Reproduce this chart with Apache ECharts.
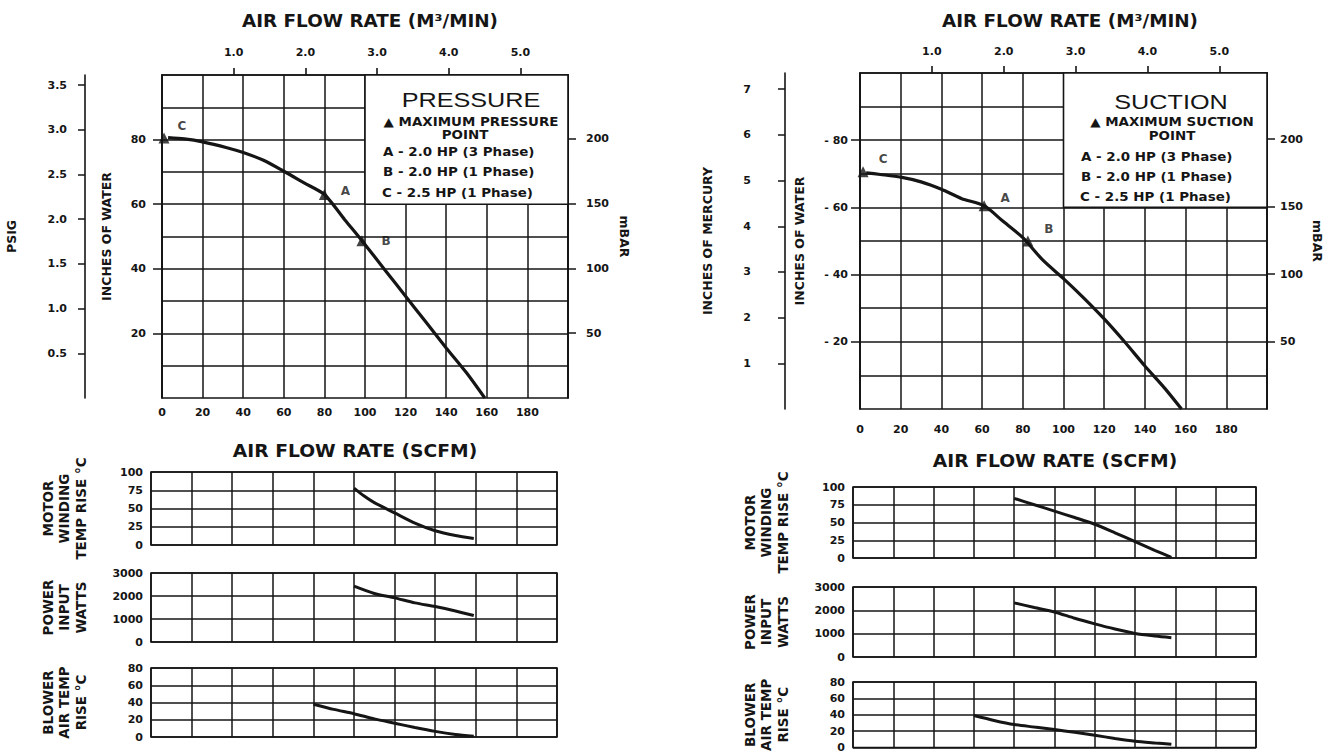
<!DOCTYPE html>
<html><head><meta charset="utf-8">
<script src="https://cdn.jsdelivr.net/npm/echarts@6/dist/echarts.min.js"></script>
<style>html,body{margin:0;padding:0;background:#fff}#c{width:1337px;height:753px}</style>
</head><body><div id="c"></div>
<script>
// ---------------- data ----------------
const scfmLabelValues = [0, 20, 40, 60, 80, 100, 120, 140, 160, 180];
const m3minTicks = [1, 2, 3, 4, 5];
const m3minLabels = ['1.0', '2.0', '3.0', '4.0', '5.0'];
const psigTicks = [0.5, 1, 1.5, 2, 2.5, 3, 3.5];
const psigLabels = ['0.5', '1.0', '1.5', '2.0', '2.5', '3.0', '3.5'];
const waterTicks = [20, 40, 60, 80];
const pressureWaterLabels = ['20', '40', '60', '80'];
const suctionWaterLabels = ['- 20', '- 40', '- 60', '- 80'];
const mbarTicks = [50, 100, 150, 200];
const mbarLabels = ['50', '100', '150', '200'];
const inHgTicks = [1, 2, 3, 4, 5, 6, 7];
const inHgLabels = ['1', '2', '3', '4', '5', '6', '7'];

// unit conversions between the stacked scales
const SCFM_PER_M3MIN = 35.3147;
const INH2O_PER_PSI = 27.68;
const INH2O_PER_MBAR = 0.40146;
const INH2O_PER_INHG = 13.595;

// pressure chart: SCFM vs inches of water
const pressureCurve = [[3, 80.6], [11, 80.2], [20, 79.3], [32, 77.5], [40, 76], [50, 73.6], [60, 70.2], [70, 66.6], [80, 63], [90, 55.2], [98.5, 48.7], [110, 39.5], [120, 31.5], [130, 23.5], [140, 15.5], [150, 7.8], [159, 0]];
const pressureMaxPoints = [[80, 63], [98.5, 48.7], [1, 80.5]];
// suction chart: SCFM vs inches of water (suction)
const suctionCurve = [[3, 70.3], [10, 69.8], [20, 69], [30, 67.6], [40, 65.4], [50, 62.6], [61, 60.5], [70, 56], [80, 51], [90, 44.2], [100, 38.8], [110, 33], [120, 26.8], [130, 20], [140, 12.8], [150, 6], [158, 0]];
const suctionMaxPoints = [[61, 60.5], [82.5, 50], [1.5, 70.6]];
const pointNames = ['A', 'B', 'C'];

const legendTitles = ['PRESSURE', 'SUCTION'];
const legendMaxLines = ['\u25B2 MAXIMUM PRESSURE', '\u25B2 MAXIMUM SUCTION'];
const legendModels = ['A - 2.0 HP (3 Phase)', 'B - 2.0 HP (1 Phase)', 'C - 2.5 HP (1 Phase)'];
const legendBoxScfm = [100, 200];
const legendBoxWater = [60, 100];

// small panels (SCFM vs value)
const motorTicksMax = 100, motorInterval = 25;
const powerTicksMax = 3000, powerInterval = 1000;
const blowerTicksMax = 80, blowerInterval = 20;
const leftMotor = [[100, 78], [105, 67], [110, 58], [120, 44], [130, 30], [140, 19.5], [150, 13], [159, 9]];
const leftPower = [[100, 2430], [110, 2110], [120, 1920], [130, 1700], [140, 1540], [150, 1350], [159, 1150]];
const leftBlower = [[80, 38], [90, 32], [100, 27], [110, 21], [120, 16], [130, 11], [140, 6.5], [150, 3], [159, 1]];
const rightMotor = [[80, 84], [90, 75], [100, 66], [110, 57], [120, 47.5], [130, 35.5], [140, 23], [150, 10.5], [158, 1]];
const rightPower = [[80, 2320], [90, 2120], [100, 1930], [110, 1660], [120, 1420], [130, 1200], [140, 1010], [150, 900], [158, 830]];
const rightBlower = [[60, 39], [70, 33], [80, 28], [90, 25], [100, 22], [110, 18.5], [120, 15], [130, 11], [140, 7.6], [150, 5.5], [158, 4]];
const panelNames = ['MOTOR\nWINDING\nTEMP RISE \u00B0C', 'POWER\nINPUT\nWATTS', 'BLOWER\nAIR TEMP\nRISE \u00B0C'];

// ---------------- styling / layout ----------------
const INK = '#151515';
const FONT = 'DejaVu Sans';
const gridLine = { color: INK, width: 1.5 };
const lblStyle = { color: INK, fontFamily: FONT, fontWeight: 'bold', fontSize: 11 };
const nameStyle = { color: INK, fontFamily: FONT, fontWeight: 'bold', fontSize: 12.5 };
const panelNameStyle = { color: INK, fontFamily: FONT, fontWeight: 'bold', fontSize: 13.5, lineHeight: 16.5 };

function lookup(vals, labels) {
  return function (v) {
    for (let i = 0; i < vals.length; i++) if (Math.abs(vals[i] - v) < 1e-6) return labels[i];
    return '';
  };
}

const grids = [
  { left: 162, top: 75, width: 406, height: 323 },   // pressure
  { left: 860, top: 73, width: 407, height: 336 },   // suction
  { left: 151, top: 472, width: 406, height: 73 },
  { left: 151, top: 573, width: 406, height: 69 },
  { left: 151, top: 668, width: 406, height: 69 },
  { left: 853, top: 487, width: 403, height: 71 },
  { left: 853, top: 587, width: 403, height: 70 },
  { left: 853, top: 682, width: 403, height: 70 }
].map(g => Object.assign({ show: true, borderColor: INK, borderWidth: 1.6, backgroundColor: 'transparent', containLabel: false }, g));

function scfmAxis(gridIndex, showLabels, margin) {
  return {
    type: 'value', gridIndex, position: 'bottom', min: 0, max: 200, interval: 20,
    axisLine: { show: false }, axisTick: { show: false },
    axisLabel: Object.assign({ show: showLabels, margin: margin || 8, showMaxLabel: false,
      formatter: v => scfmLabelValues.indexOf(v) >= 0 ? String(v) : '' }, lblStyle),
    splitLine: { show: true, lineStyle: gridLine }
  };
}
function m3Axis(gridIndex, margin) {
  return {
    type: 'value', gridIndex, position: 'top', min: 0, max: 200 / SCFM_PER_M3MIN, interval: 1,
    axisLine: { show: true, onZero: false, lineStyle: { color: INK, width: 1.6 } },
    axisTick: { show: true, length: 7, customValues: m3minTicks, lineStyle: { color: INK, width: 1.6 } },
    axisLabel: Object.assign({ margin, customValues: m3minTicks, formatter: lookup(m3minTicks, m3minLabels) }, lblStyle),
    splitLine: { show: false }
  };
}
function waterAxis(gridIndex, labels, margin, nameGap) {
  return {
    type: 'value', gridIndex, position: 'left', min: 0, max: 100, interval: 20,
    axisLine: { show: true, onZero: false, lineStyle: { color: INK, width: 1.6 } },
    axisTick: { show: true, length: 9, customValues: waterTicks, lineStyle: { color: INK, width: 1.5 } },
    axisLabel: Object.assign({ margin, customValues: waterTicks, formatter: lookup(waterTicks, labels) }, lblStyle),
    splitLine: { show: true, lineStyle: gridLine },
    minorTick: { show: false, splitNumber: 2 },
    minorSplitLine: { show: true, lineStyle: gridLine },
    name: 'INCHES OF WATER', nameLocation: 'middle', nameRotate: 90, nameGap, nameTextStyle: nameStyle
  };
}
function sideAxis(gridIndex, pos, offset, max, interval, ticks, labels, margin, name, nameGap, rot, tickLen) {
  return {
    type: 'value', gridIndex, position: pos, offset, min: 0, max, interval,
    axisLine: { show: true, onZero: false, lineStyle: { color: INK, width: 1.6 } },
    axisTick: { show: true, length: tickLen, customValues: ticks, lineStyle: { color: INK, width: 1.5 } },
    axisLabel: Object.assign({ margin, customValues: ticks, formatter: lookup(ticks, labels) }, lblStyle),
    splitLine: { show: false },
    name, nameLocation: 'middle', nameRotate: rot, nameGap, nameTextStyle: nameStyle
  };
}
function panelY(gridIndex, max, interval, name) {
  return {
    type: 'value', gridIndex, min: 0, max, interval,
    axisLine: { show: false }, axisTick: { show: false },
    axisLabel: Object.assign({ margin: 8, formatter: v => String(v) }, lblStyle),
    splitLine: { show: true, lineStyle: gridLine },
    name, nameLocation: 'middle', nameRotate: 90, nameGap: 62, nameTextStyle: panelNameStyle
  };
}

const xAxis = [
  scfmAxis(0, true, 9), m3Axis(0, 17),
  scfmAxis(1, true, 15), m3Axis(1, 16),
  scfmAxis(2, false), scfmAxis(3, false), scfmAxis(4, false),
  scfmAxis(5, false), scfmAxis(6, false), scfmAxis(7, false)
];
const yAxis = [
  waterAxis(0, pressureWaterLabels, 16, 49),
  sideAxis(0, 'left', 77, 100 / INH2O_PER_PSI, 0.5, psigTicks, psigLabels, 18, 'PSIG', 67, 90, 7),
  sideAxis(0, 'right', 0, 100 / INH2O_PER_MBAR, 50, mbarTicks, mbarLabels, 18, 'mBAR', 50, -90, 8),
  waterAxis(1, suctionWaterLabels, 12, 54),
  sideAxis(1, 'left', 75, 100 / INH2O_PER_INHG, 1, inHgTicks, inHgLabels, 34, 'INCHES OF MERCURY', 71, 90, 7),
  sideAxis(1, 'right', 0, 100 / INH2O_PER_MBAR, 50, mbarTicks, mbarLabels, 13, 'mBAR', 44, -90, 8),
  panelY(2, motorTicksMax, motorInterval, panelNames[0]),
  panelY(3, powerTicksMax, powerInterval, panelNames[1]),
  panelY(4, blowerTicksMax, blowerInterval, panelNames[2]),
  panelY(5, motorTicksMax, motorInterval, panelNames[0]),
  panelY(6, powerTicksMax, powerInterval, panelNames[1]),
  panelY(7, blowerTicksMax, blowerInterval, panelNames[2])
];

function curve(xi, yi, data, w) {
  return { type: 'line', xAxisIndex: xi, yAxisIndex: yi, data, smooth: 0.25, symbol: 'none',
    lineStyle: { color: INK, width: w || 3 }, z: 4, silent: true };
}
function legendArea() {
  return { silent: true, itemStyle: { color: '#fff', borderColor: INK, borderWidth: 1.6 },
    data: [[{ coord: [legendBoxScfm[0], legendBoxWater[0]] }, { coord: [legendBoxScfm[1], legendBoxWater[1]] }]] };
}
function markers(xi, yi, pts, offsets) {
  return { type: 'scatter', xAxisIndex: xi, yAxisIndex: yi, symbol: 'triangle', symbolSize: 11,
    itemStyle: { color: INK }, z: 6, silent: true,
    label: { show: true, formatter: '{b}', position: 'inside', color: INK, fontFamily: FONT, fontWeight: 'bold', fontSize: 12 },
    data: pts.map((p, i) => ({ name: pointNames[i], value: p, label: { offset: offsets[i] } })) };
}

const pressureMain = curve(0, 0, pressureCurve, 3.2);
pressureMain.markArea = legendArea();
const suctionMain = curve(2, 3, suctionCurve, 3.2);
suctionMain.markArea = legendArea();

const series = [
  pressureMain,
  markers(0, 0, pressureMaxPoints, [[21, -4], [24, 0], [18, -12]]),
  suctionMain,
  markers(2, 3, suctionMaxPoints, [[21, -8], [21, -12], [20, -13]]),
  curve(4, 6, leftMotor), curve(5, 7, leftPower), curve(6, 8, leftBlower),
  curve(7, 9, rightMotor), curve(8, 10, rightPower), curve(9, 11, rightBlower)
];

function gtext(x, y, text, opt) {
  opt = opt || {};
  return { type: 'text', x, y, scaleX: opt.sx || 1, z: 100, silent: true,
    style: { text, fill: INK, fontFamily: opt.family || FONT, fontWeight: opt.weight || 'bold', fontSize: opt.size || 12,
      align: opt.align || 'center', textAlign: opt.align || 'center', verticalAlign: 'middle', textVerticalAlign: 'middle' } };
}
const graphic = [
  gtext(370, 21, 'AIR FLOW RATE (M\u00B3/MIN)', { size: 17, sx: 1.08 }),
  gtext(1070, 21, 'AIR FLOW RATE (M\u00B3/MIN)', { size: 17, sx: 1.08 }),
  gtext(355, 451, 'AIR FLOW RATE (SCFM)', { size: 17, sx: 1.1 }),
  gtext(1055, 461, 'AIR FLOW RATE (SCFM)', { size: 17, sx: 1.1 }),
  // pressure legend
  gtext(471, 100, legendTitles[0], { size: 21, sx: 1.2, family: 'Liberation Sans', weight: 'normal' }),
  gtext(471, 122, legendMaxLines[0], { sx: 1.12 }),
  gtext(465, 135, 'POINT', { sx: 1.12 }),
  gtext(383, 152, legendModels[0], { sx: 1.12, align: 'left' }),
  gtext(383, 172, legendModels[1], { sx: 1.12, align: 'left' }),
  gtext(382, 193, legendModels[2], { sx: 1.12, align: 'left' }),
  // suction legend
  gtext(1171, 102, legendTitles[1], { size: 21, sx: 1.2, family: 'Liberation Sans', weight: 'normal' }),
  gtext(1172, 122, legendMaxLines[1], { sx: 1.12 }),
  gtext(1172, 136, 'POINT', { sx: 1.12 }),
  gtext(1081, 157, legendModels[0], { sx: 1.12, align: 'left' }),
  gtext(1081, 177, legendModels[1], { sx: 1.12, align: 'left' }),
  gtext(1080, 197, legendModels[2], { sx: 1.12, align: 'left' })
];

const chart = echarts.init(document.getElementById('c'), null, { renderer: 'svg', width: 1337, height: 753 });
chart.setOption({
  animation: false,
  backgroundColor: '#fff',
  grid: grids,
  xAxis, yAxis, series,
  graphic: { elements: graphic }
});
</script></body></html>
